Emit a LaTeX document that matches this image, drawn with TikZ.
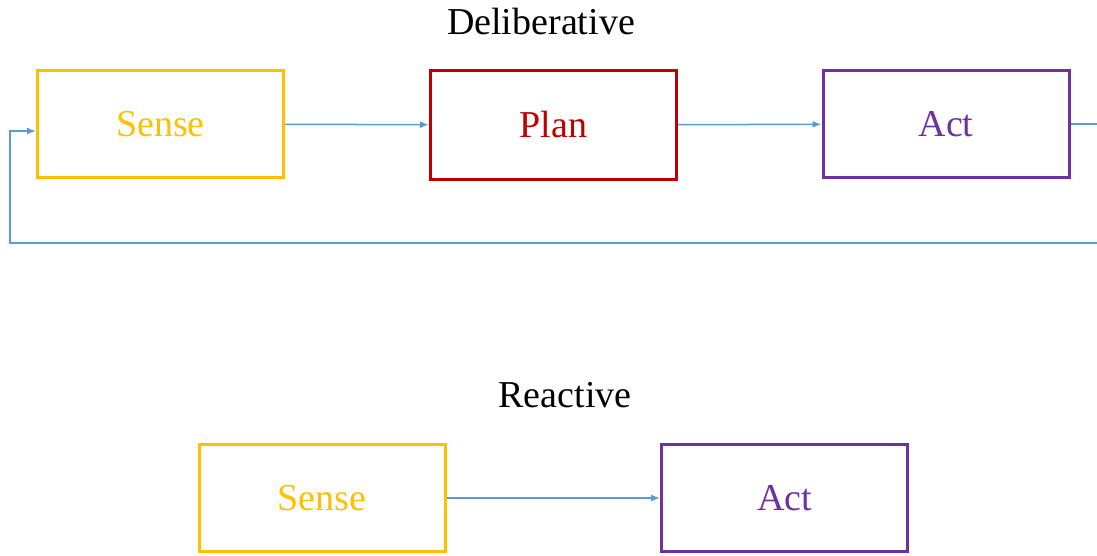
\documentclass[tikz,border=0pt]{standalone}
\usepackage{fontspec}
\setmainfont{Liberation Serif}
\usetikzlibrary{arrows.meta}
\definecolor{senseyellow}{HTML}{FFC000}
\definecolor{planred}{HTML}{C00000}
\definecolor{actpurple}{HTML}{7030A0}
\definecolor{flowblue}{HTML}{5B9BD5}
\begin{document}
\begin{tikzpicture}
  [x=1pt,y=-1pt,every node/.style={font=\fontsize{38}{40}\selectfont}]
  \tikzstyle{box} = [draw,line width=3pt,shape=rectangle,minimum width=246pt,minimum height=107pt,inner sep=0pt]
  \tikzstyle{flow} = [draw=flowblue,line width=1.5pt,-{Latex[length=9pt,width=7pt]}]
  \useasboundingbox (0,0) rectangle (1097,556);
  % deliberative
  \node (title1) at (541,22) {Deliberative};
  \node[box,draw=senseyellow,text=senseyellow] (s1) at (160.5,124) {Sense};
  \node[box,draw=planred,text=planred,minimum height=109pt] (p1) at (553.5,125) {Plan};
  \node[box,draw=actpurple,text=actpurple] (a1) at (946,124) {Act};
  \coordinate (out) at (1097,124);
  \coordinate (back1) at (1097,243);
  \coordinate (back2) at (10,243);
  \coordinate (back3) at (10,131);
\foreach \source /\dest in {s1/p1,p1/a1}
   \draw[flow] (\source) -- (\dest);
  \draw[draw=flowblue,line width=1.5pt] (a1.east) -- (out);
  \draw[flow] (back1) -- (back2) -- (back3) -- (s1.west |- back3);
  % reactive
  \node (title2) at (565,395) {Reactive};
  \node[box,draw=senseyellow,text=senseyellow] (s2) at (322,498) {Sense};
  \node[box,draw=actpurple,text=actpurple] (a2) at (784.5,498) {Act};
  \draw[flow] (s2) -- (a2);
\end{tikzpicture}
\end{document}
